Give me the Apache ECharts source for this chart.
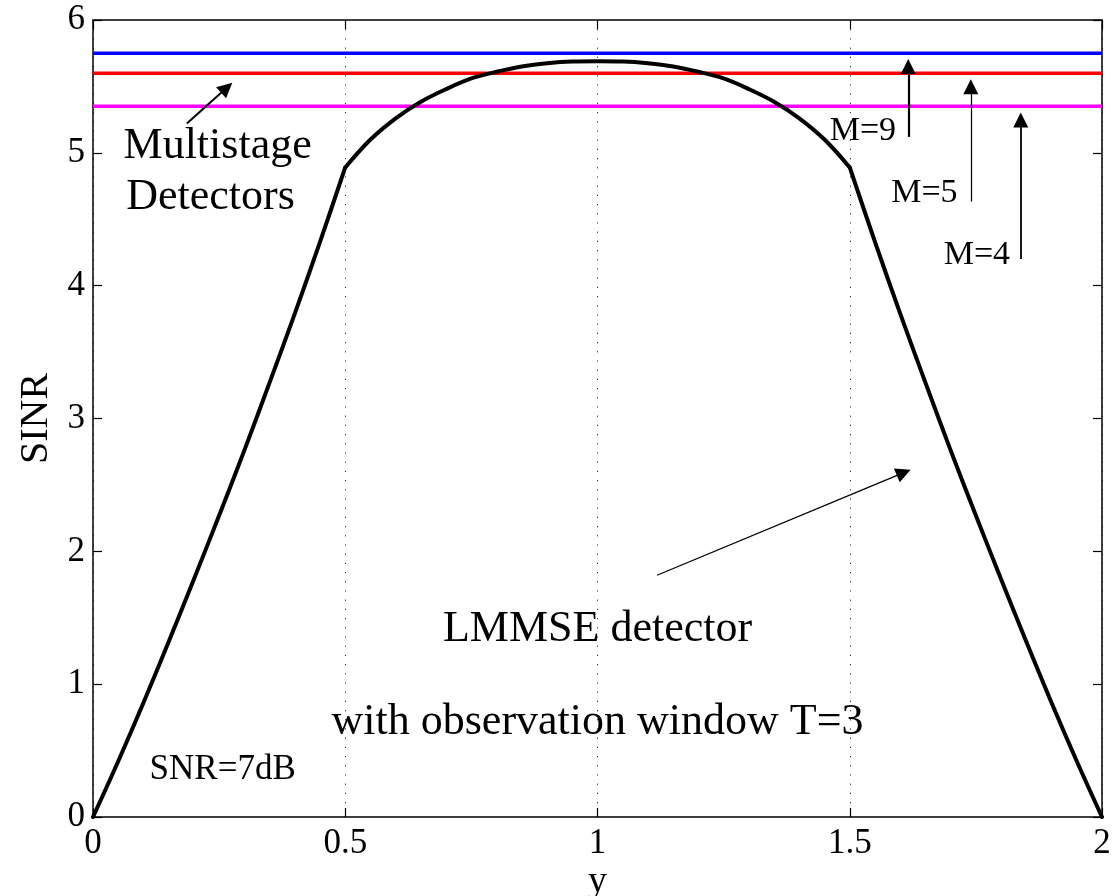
<!DOCTYPE html>
<html>
<head>
<meta charset="utf-8">
<script src="https://cdn.jsdelivr.net/npm/echarts@6/dist/echarts.min.js"></script>
<style>
html,body{margin:0;padding:0;background:#fff;}
#chart{width:1113px;height:896px;}
</style>
</head>
<body>
<div id="chart"></div>
<script>
// ---- data ----
const xValues = [0,0.05,0.1,0.15,0.2,0.25,0.3,0.35,0.4,0.45,0.5,0.55,0.6,0.65,0.7,0.75,0.8,0.85,0.9,0.95,1.0,
  1.05,1.1,1.15,1.2,1.25,1.3,1.35,1.4,1.45,1.5,1.55,1.6,1.65,1.7,1.75,1.8,1.85,1.9,1.95,2.0];
const lmmseSINR = [0,0.42,0.86,1.32,1.79,2.27,2.76,3.27,3.79,4.33,4.89,5.10,5.26,5.385,5.48,5.56,5.61,5.65,5.675,5.688,5.69,
  5.688,5.675,5.65,5.61,5.56,5.48,5.385,5.26,5.10,4.89,4.33,3.79,3.27,2.76,2.27,1.79,1.32,0.86,0.42,0];
const stageNames = ['M=9','M=5','M=4'];
const stageSINR = [5.75, 5.60, 5.35];
const stageColors = ['#0000ff','#ff0000','#ff00ff'];
const xTicks = [0,0.5,1,1.5,2];
const yTicks = [0,1,2,3,4,5,6];
// break points of the LMMSE curve (kinks)
const kinkX = [0.5, 1.5];

// annotation texts: [text, x, y]
const annoTexts = [
  ['Multistage', 0.247, 5.05],
  ['Detectors', 0.233, 4.665],
  ['LMMSE detector', 1.0, 1.41],
  ['with observation window T=3', 1.0, 0.71],
  ['SNR=7dB', 0.257, 0.354],
  ['M=9', 1.526, 5.166],
  ['M=5', 1.648, 4.694],
  ['M=4', 1.752, 4.234]
];
const annoSizes = [44,44,44,44,35,34,34,34];
// arrows: [[tailX,tailY],[headX,headY]]
const arrows = [
  [[0.186,5.22],[0.265,5.49]],
  [[1.118,1.82],[1.607,2.593]],
  [[1.616,5.12],[1.616,5.65]],
  [[1.740,4.633],[1.740,5.497]],
  [[1.839,4.20],[1.839,5.247]]
];
const arrowWidths = [2,1.3,2.2,1.2,1.8];

const FONT = 'Liberation Serif';
const chart = echarts.init(document.getElementById('chart'), null, {renderer:'canvas'});

const curve = xValues.map((x,i)=>[x, lmmseSINR[i]]);
const seg1 = curve.filter(p=>p[0] <= kinkX[0]);
const seg2 = curve.filter(p=>p[0] >= kinkX[0] && p[0] <= kinkX[1]);
const seg3 = curve.filter(p=>p[0] >= kinkX[1]);

const series = [];
stageSINR.forEach((v,i)=>{
  series.push({
    type:'line', name: stageNames[i], data:[[0,v],[2,v]],
    showSymbol:false, symbol:'none',
    lineStyle:{color:stageColors[i], width:3.5}, z:3
  });
});
[seg1, seg2, seg3].forEach(seg=>{
  series.push({
    type:'line', name:'LMMSE', data:seg, showSymbol:false, symbol:'none',
    smooth:0.35,
    lineStyle:{color:'#000', width:4, join:'round', cap:'round'}, z:4
  });
});
series.push({
  type:'lines', coordinateSystem:'cartesian2d', polyline:false,
  symbol:['none','triangle'], symbolSize:[10,15],
  data: arrows.map((a,i)=>({coords:a, lineStyle:{width:arrowWidths[i]}})),
  lineStyle:{color:'#000', opacity:1, curveness:0},
  itemStyle:{color:'#000'},
  z:5
});
series.push({
  type:'scatter', symbolSize:1, itemStyle:{color:'rgba(0,0,0,0)', opacity:1},
  data: annoTexts.map((t,i)=>({
    value:[t[1],t[2]], name:t[0],
    label:{show:true, position:'inside', formatter:t[0], color:'#000', opacity:1,
      textBorderWidth:0, fontFamily:FONT, fontSize:annoSizes[i]}
  })),
  z:6
});

const axisLine = {show:true, onZero:false, lineStyle:{color:'#000', width:1.5}};
const option = {
  animation:false,
  backgroundColor:'#fff',
  grid:{left:93, right:11, top:20, bottom:79, containLabel:false, outerBoundsMode:'none'},
  xAxis:[{
    type:'value', min:0, max:2, interval:0.5, position:'bottom',
    name:'y', nameLocation:'middle', nameGap:46, nameMoveOverlap:false,
    nameTextStyle:{fontFamily:FONT, fontSize:38, color:'#000'},
    axisLine:axisLine,
    axisTick:{show:true, inside:true, length:9, lineStyle:{color:'#000', width:1.2}},
    axisLabel:{fontFamily:FONT, fontSize:35, color:'#000', margin:9,
      formatter:(v)=> xTicks.includes(v) ? String(v) : ''},
    splitLine:{show:true, lineStyle:{color:'#333', width:1, type:[1.2,8]}}
  },{
    type:'value', min:0, max:2, interval:0.5, position:'top',
    axisLine:axisLine,
    axisTick:{show:true, inside:true, length:9, lineStyle:{color:'#000', width:1.2}},
    axisLabel:{show:false}, splitLine:{show:false}
  }],
  yAxis:[{
    type:'value', min:0, max:6, interval:1, position:'left',
    name:'SINR', nameLocation:'middle', nameGap:37, nameRotate:90, nameMoveOverlap:false,
    nameTextStyle:{fontFamily:FONT, fontSize:40, color:'#000'},
    axisLine:axisLine,
    axisTick:{show:true, inside:true, length:9, lineStyle:{color:'#000', width:1.2}},
    axisLabel:{fontFamily:FONT, fontSize:35, color:'#000', margin:8,
      formatter:(v)=> yTicks.includes(v) ? String(v) : ''},
    splitLine:{show:false}
  },{
    type:'value', min:0, max:6, interval:1, position:'right',
    axisLine:axisLine,
    axisTick:{show:true, inside:true, length:9, lineStyle:{color:'#000', width:1.2}},
    axisLabel:{show:false}, splitLine:{show:false}
  }],
  series: series
};
chart.setOption(option);
</script>
</body>
</html>
